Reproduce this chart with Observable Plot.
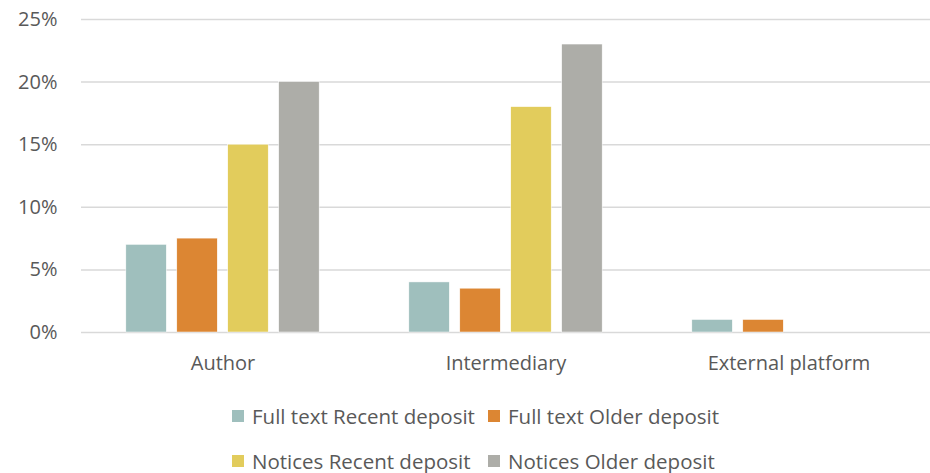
<!DOCTYPE html>
<html>
<head>
<meta charset="utf-8">
<script src="https://cdn.jsdelivr.net/npm/d3@7"></script>
<script src="https://cdn.jsdelivr.net/npm/@observablehq/plot@0.6"></script>
<style>
  html, body { margin: 0; padding: 0; background: #fff; }
  body { width: 930px; height: 473px; overflow: hidden; font-family: "Open Sans", sans-serif; }
  #legend { display: grid; grid-template-columns: 256px 256px; grid-auto-rows: 45px; margin-left: 232px; margin-top: 8px; color: #595959; font-size: 20.5px; }
  .item { display: flex; align-items: center; white-space: nowrap; }
  .sw { width: 12px; height: 12px; margin-right: 8px; flex: none; }
</style>
</head>
<body>
<div id="chart"></div>
<div id="legend"></div>
<script>
const categories = ["Author", "Intermediary", "External platform"];
const series = ["Full text Recent deposit", "Full text Older deposit", "Notices Recent deposit", "Notices Older deposit"];
const colors = ["#9FBFBD", "#DC8633", "#E2CC5C", "#ADADA8"];
// values in %, one array per series, aligned with categories
const fullTextRecent = [7, 4, 1];
const fullTextOlder = [7.5, 3.5, 1];
const noticesRecent = [15, 18, 0];
const noticesOlder = [20, 23, 0];
const yTicks = [0, 5, 10, 15, 20, 25];

const seriesValues = [fullTextRecent, fullTextOlder, noticesRecent, noticesOlder];
const data = [];
categories.forEach((c, i) => {
  series.forEach((s, j) => data.push({category: c, series: s, value: seriesValues[j][i]}));
});

const chart = Plot.plot({
  width: 930,
  height: 385,
  marginLeft: 81,
  marginRight: 0,
  marginTop: 19,
  marginBottom: 53,
  style: {fontFamily: "'Open Sans', sans-serif", fontSize: "20px", color: "#595959", background: "#fff"},
  fx: {domain: categories, padding: 0, round: false, label: null, axis: null},
  x: {domain: series, paddingInner: 0.206, paddingOuter: 0.88, round: false, axis: null},
  y: {domain: [0, 25], label: null},
  color: {domain: series, range: colors},
  marks: [
    Plot.ruleY(yTicks, {stroke: "#D9D9D9", strokeWidth: 1.5}),
    Plot.axisY({ticks: yTicks, tickFormat: d => d + "%", tickSize: 0, tickPadding: 24, fontSize: 20, label: null}),
    Plot.axisFx({anchor: "bottom", tickSize: 0, tickPadding: 23, fontSize: 20, label: null}),
    Plot.barY(data, {fx: "category", x: "series", y: "value", fill: "series", stroke: "#fff", strokeWidth: 0.5})
  ]
});
document.getElementById("chart").appendChild(chart);

const legend = document.getElementById("legend");
series.forEach((s, i) => {
  const item = document.createElement("div");
  item.className = "item";
  const sw = document.createElement("span");
  sw.className = "sw";
  sw.style.background = colors[i];
  const t = document.createElement("span");
  t.textContent = s;
  item.appendChild(sw);
  item.appendChild(t);
  legend.appendChild(item);
});
</script>
</body>
</html>
